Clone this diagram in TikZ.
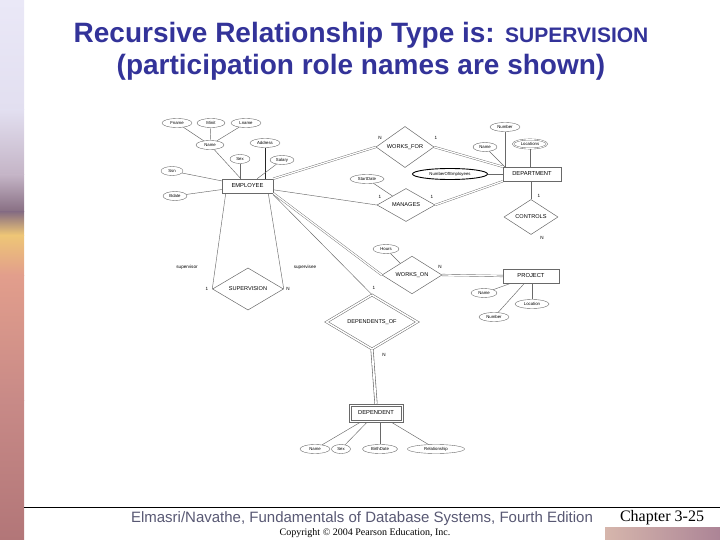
\documentclass[tikz,border=0pt]{standalone}
\usepackage{fontspec}
\setmainfont{Liberation Sans}
\newfontfamily\serifface{Liberation Serif}
\usetikzlibrary{positioning,shapes.geometric}
\definecolor{titleblue}{RGB}{51,51,153}
\definecolor{footgray}{RGB}{88,88,115}
\definecolor{erline}{RGB}{105,105,105}

\begin{document}
\begin{tikzpicture}[x=1pt, y=-1pt,
  entity/.style={rectangle, draw=erline, line width=0.5pt, minimum width=51pt, minimum height=14pt, inner sep=1pt, font=\fontsize{5.8}{6}\selectfont},
  rel/.style={diamond, draw=erline, line width=0.5pt, inner sep=0pt, font=\fontsize{5.6}{6}\selectfont},
  attr/.style={ellipse, draw=erline, line width=0.4pt, inner sep=0pt, minimum height=9pt, font=\fontsize{4.3}{5}\selectfont},
  card/.style={font=\fontsize{4.6}{5}\selectfont, inner sep=0pt},
  role/.style={font=\fontsize{4.6}{5}\selectfont, inner sep=0pt},
  link/.style={draw=erline, line width=0.45pt},
  total/.style={draw=erline, line width=0.4pt, double, double distance=1.3pt}
]
\useasboundingbox (0,0) rectangle (720,540);
\shade[top color={rgb,255:red,234;green,232;blue,247}, bottom color={rgb,255:red,226;green,223;blue,240}] (0,0) rectangle (24,110);
\shade[top color={rgb,255:red,226;green,223;blue,240}, bottom color={rgb,255:red,196;green,180;blue,198}] (0,110) rectangle (24,175);
\shade[top color={rgb,255:red,196;green,180;blue,198}, bottom color={rgb,255:red,135;green,110;blue,130}] (0,175) rectangle (24,212);
\shade[top color={rgb,255:red,135;green,110;blue,130}, bottom color={rgb,255:red,238;green,198;blue,118}] (0,212) rectangle (24,235);
\shade[top color={rgb,255:red,238;green,198;blue,118}, bottom color={rgb,255:red,226;green,158;blue,140}] (0,235) rectangle (24,275);
\shade[top color={rgb,255:red,226;green,158;blue,140}, bottom color={rgb,255:red,200;green,138;blue,135}] (0,275) rectangle (24,400);
\shade[top color={rgb,255:red,200;green,138;blue,135}, bottom color={rgb,255:red,178;green,118;blue,120}] (0,400) rectangle (24,540);
\shade[left color={rgb,255:red,214;green,182;blue,172}, middle color={rgb,255:red,232;green,176;blue,150}, right color={rgb,255:red,172;green,132;blue,150}] (605,527) rectangle (720,540);
\draw[line width=1pt] (24,507) -- (720,507);

\node[font=\bfseries\fontsize{28}{32}\selectfont, text=titleblue, align=center] (title) at (361,51)
  {Recursive Relationship Type is: {\fontsize{21}{24}\selectfont SUPERVISION}\\(participation role names are shown)};
\node[font=\fontsize{15}{17}\selectfont, text=footgray] (book) at (362,519) {Elmasri/Navathe, Fundamentals of Database Systems, Fourth Edition};
\node[font=\serifface\fontsize{10}{11}\selectfont] (copy) at (365,533) {Copyright © 2004 Pearson Education, Inc.};
\node[font=\serifface\fontsize{16}{18}\selectfont] (chap) at (662,518) {Chapter 3-25};

\node[entity] (emp) at (247.5,186) {EMPLOYEE};
\node[attr, minimum width=30pt] (fname) at (177,123) {Fname};
\node[attr, minimum width=28pt] (minit) at (211,123) {Minit};
\node[attr, minimum width=30pt] (lname) at (246,123) {Lname};
\node[attr, minimum width=28pt] (ename) at (210,145) {Name};
\node[attr, minimum width=30pt] (addr) at (265,143) {Address};
\node[attr, minimum width=20pt] (esex) at (240,159) {Sex};
\node[attr, minimum width=24pt] (salary) at (282,160) {Salary};
\node[attr, minimum width=22pt] (ssn) at (172,171) {Ssn};
\node[attr, minimum width=24pt] (bdate) at (175,196) {Bdate};

\node[entity, minimum width=58pt] (dept) at (532,174) {DEPARTMENT};
\node[attr, minimum width=30pt] (dnumber) at (505,127) {Number};
\node[attr, minimum width=24pt] (dname) at (485,147) {Name};
\node[attr, minimum width=34pt, double, double distance=0.8pt] (locs) at (530,144) {Locations};
\node[attr, minimum width=75pt, minimum height=11pt, draw=black, line width=0.9pt] (numemp) at (450,174) {NumberOfEmployees};

\node[rel, minimum width=58pt, minimum height=32pt] (worksfor) at (405,147) {WORKS\_FOR};
\node[rel, minimum width=58pt, minimum height=33pt] (manages) at (406,205) {MANAGES};
\node[attr, minimum width=34pt] (startdate) at (367,179) {StartDate};
\node[rel, minimum width=54pt, minimum height=30pt] (controls) at (531,217) {CONTROLS};

\node[entity, minimum width=56pt] (proj) at (531,276) {PROJECT};
\node[attr, minimum width=26pt] (pname) at (484,293) {Name};
\node[attr, minimum width=34pt] (ploc) at (532,304) {Location};
\node[attr, minimum width=30pt] (pnumber) at (494,317) {Number};
\node[rel, minimum width=60pt, minimum height=34pt] (workson) at (412,275) {WORKS\_ON};
\node[attr, minimum width=26pt] (hours) at (386,249) {Hours};

\node[rel, minimum width=71pt, minimum height=41pt] (superv) at (248,289) {SUPERVISION};
\node[rel, minimum width=91pt, minimum height=49pt, double, double distance=1.5pt] (depof) at (372,322) {DEPENDENTS\_OF};
\node[entity, minimum width=54pt, minimum height=18pt] (dep) at (376,413) {DEPENDENT};
\draw[erline, line width=0.5pt] ([shift={(2.5,2.5)}]dep.north west) rectangle ([shift={(-2.5,-2.5)}]dep.south east);
\node[attr, minimum width=30pt] (dpname) at (315,449) {Name};
\node[attr, minimum width=19pt] (dpsex) at (341,449) {Sex};
\node[attr, minimum width=35pt] (birth) at (380,449) {BirthDate};
\node[attr, minimum width=57pt] (relship) at (436,449) {Relationship};

\node[card] (wfN) at (380,138) {N};
\node[card] (wf1) at (436,138) {1};
\node[card] (mg1a) at (380,197) {1};
\node[card] (mg1b) at (432,197) {1};
\node[card] (ct1) at (539,196) {1};
\node[card] (ctN) at (542,238) {N};
\node[card] (woN) at (440,267) {N};
\node[card] (do1) at (374,288) {1};
\node[card] (doN) at (384,355) {N};
\node[card] (sv1) at (207,289) {1};
\node[card] (svN) at (288,289) {N};
\node[role] (supvr) at (187,267) {supervisor};
\node[role] (supve) at (305,267) {supervisee};

\draw[link] (fname) -- (ename);
\draw[link] (minit) -- (ename);
\draw[link] (lname) -- (ename);
\draw[link] (ename) -- (emp);
\draw[link, draw=black!85, line width=0.8pt] (addr) -- (addr |- emp.north);
\draw[link] (esex) -- (esex |- emp.north);
\draw[link] (salary) -- (emp);
\draw[link] (ssn) -- (emp);
\draw[link] (bdate) -- (emp);
\draw[total] (emp.north east) -- (worksfor.west);
\draw[link] (emp) -- (manages.west);
\draw[total] (emp.south east) -- (workson.west);
\draw[link] ([yshift=-1.5pt]emp.south east) -- (depof.north);
\draw[link] ([xshift=4pt]emp.south west) -- (superv.west);
\draw[link] ([xshift=-5pt]emp.south east) -- (superv.east);
\draw[total] (worksfor.east) -- (dept.north west);
\draw[total] (manages.east) -- (dept.south west);
\draw[link] (numemp) -- (dept.west);
\draw[link] (dnumber) -- (dnumber |- dept.north);
\draw[link] (dname) -- ([xshift=2pt]dept.north west);
\draw[link] (locs) -- (locs |- dept.north);
\draw[link] (startdate) -- (manages);
\draw[link] (dept.south -| controls.north) -- (controls.north);
\draw[total] (controls.south) -- (controls.south |- proj.north);
\draw[total] (workson.east) -- (proj.west);
\draw[link] (hours) -- (workson);
\draw[link] (pname) -- (proj);
\draw[link] (ploc) -- (ploc |- proj.south);
\draw[link] (pnumber) -- (proj);
\draw[total, double distance=1.8pt, line width=0.6pt] (depof.south) -- (dep.north);
\draw[link] (dpname) -- (dep);
\draw[link] (dpsex) -- (dep);
\draw[link] (birth) -- (birth |- dep.south);
\draw[link] (relship) -- (dep);
\end{tikzpicture}
\end{document}
